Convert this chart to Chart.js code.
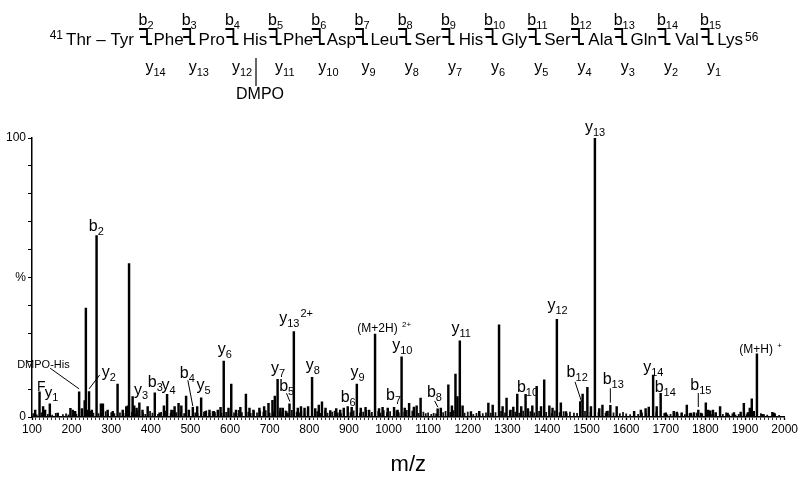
<!DOCTYPE html>
<html>
<head>
<meta charset="utf-8">
<script src="https://cdn.jsdelivr.net/npm/chart.js@4.4.0/dist/chart.umd.min.js"></script>
<style>
  html, body { margin: 0; padding: 0; background: #fff; }
  canvas { display: block; }
</style>
</head>
<body>
<canvas id="chart" width="800" height="478"></canvas>
<script>
// Peptide sequence shown above the spectrum
const residues = ["Thr", "Tyr", "Phe", "Pro", "His", "Phe", "Asp", "Leu", "Ser", "His", "Gly", "Ser", "Ala", "Gln", "Val", "Lys"];
const headerB = ["b2", "b3", "b4", "b5", "b6", "b7", "b8", "b9", "b10", "b11", "b12", "b13", "b14", "b15"];
const headerY = ["y14", "y13", "y12", "y11", "y10", "y9", "y8", "y7", "y6", "y5", "y4", "y3", "y2", "y1"];

// Main peaks (m/z, relative intensity %)
const peakMz = [
  108, 119, 128, 133, 145, 165, 197, 203, 209, 219,
  226, 233, 236, 239, 244, 251, 263, 274, 279, 291,
  304, 316, 329, 338, 342, 345, 354, 358, 364, 371,
  379, 392, 410, 422, 433, 441, 452, 460, 470, 477,
  489, 496, 506, 517, 527, 538, 548, 559, 569, 576,
  584, 596, 603, 615, 626, 640, 649, 659, 674, 686,
  697, 707, 713, 720, 727, 733, 742, 750, 761, 771,
  779, 788, 797, 807, 815, 824, 832, 841, 853, 868,
  878, 887, 897, 907, 920, 930, 942, 951, 966, 976,
  985, 998, 1014, 1023, 1033, 1041, 1052, 1064, 1071, 1081,
  1124, 1132, 1151, 1160, 1169, 1174, 1180, 1187, 1208, 1229,
  1252, 1263, 1279, 1288, 1298, 1308, 1315, 1325, 1335, 1346,
  1352, 1363, 1374, 1385, 1393, 1406, 1414, 1425, 1435, 1448,
  1484, 1490, 1502, 1511, 1521, 1532, 1540, 1551, 1560, 1576,
  1620, 1637, 1649, 1657, 1668, 1677, 1687, 1700, 1720, 1728,
  1740, 1753, 1763, 1771, 1782, 1789, 1801, 1807, 1812, 1819,
  1826, 1837, 1856, 1872, 1889, 1897, 1907, 1912, 1917, 1922,
  1930, 1944, 1969, 1973
];
const peakInt = [
  2.5, 9.0, 3.7, 2.5, 4.7, 1.4, 3.1, 2.5, 2.0, 9.0,
  3.0, 5.9, 39, 2.5, 9.1, 2.5, 65, 4.7, 4.7, 2.5,
  2.0, 11.8, 2.5, 3.7, 4.0, 55, 7.3, 4.0, 3.2, 5.1,
  2.5, 3.7, 8.7, 1.5, 4.0, 8.1, 2.5, 3.7, 4.9, 4.0,
  7.5, 2.5, 3.5, 3.7, 6.9, 2.0, 2.5, 2.0, 2.5, 3.5,
  20, 3.2, 11.8, 2.5, 3.5, 8.2, 3.2, 2.5, 3.2, 3.7,
  4.9, 6.0, 7.5, 13.5, 3.2, 3.2, 1.9, 4.7, 30.6, 3.2,
  3.7, 3.2, 3.7, 14.2, 3.0, 4.3, 5.4, 3.2, 2.3, 3.0,
  2.5, 3.2, 3.7, 3.5, 11.8, 3.2, 3.5, 2.5, 29.7, 3.0,
  3.5, 3.2, 3.5, 2.5, 21.6, 3.2, 4.9, 3.6, 4.0, 6.8,
  2.9, 3.2, 11.5, 4.0, 15.4, 7.3, 27.3, 4.0, 1.9, 2.0,
  5.0, 4.3, 33, 3.7, 6.8, 2.5, 3.6, 8.2, 3.7, 8.1,
  3.0, 4.0, 11.0, 3.7, 13.3, 4.0, 3.2, 35, 5.1, 1.9,
  5.5, 8.2, 10.6, 3.7, 100, 3.0, 4.3, 2.0, 4.2, 3.7,
  2.0, 2.5, 3.0, 3.6, 15, 3.7, 8.5, 1.5, 2.0, 1.8,
  1.4, 4.3, 1.4, 1.6, 2.5, 1.4, 5.1, 2.5, 2.2, 2.5,
  1.6, 3.7, 1.4, 1.6, 1.8, 4.9, 1.6, 3.2, 6.5, 2.0,
  22.6, 1.0, 1.7, 1.4
];

// Low baseline peaks
const noiseMz = [
  103, 112, 124, 133, 140, 151, 160, 166, 178, 186,
  192, 205, 212, 226, 248, 255, 268, 286, 292, 300,
  308, 322, 330, 336, 352, 360, 366, 380, 386, 398,
  404, 418, 426, 436, 450, 456, 464, 476, 484, 496,
  512, 518, 534, 540, 548, 556, 562, 570, 578, 590,
  596, 610, 616, 622, 630, 646, 652, 660, 668, 676,
  684, 690, 700, 710, 726, 732, 740, 746, 756, 768,
  774, 780, 788, 796, 814, 820, 828, 840, 846, 858,
  864, 872, 880, 888, 904, 912, 928, 936, 944, 952,
  958, 974, 980, 988, 996, 1004, 1020, 1026, 1040, 1046,
  1052, 1060, 1076, 1088, 1094, 1100, 1108, 1114, 1120, 1138,
  1144, 1156, 1164, 1192, 1200, 1214, 1222, 1230, 1238, 1246,
  1258, 1270, 1284, 1294, 1306, 1320, 1330, 1340, 1352, 1358,
  1368, 1380, 1398, 1412, 1420, 1432, 1442, 1450, 1458, 1468,
  1476, 1496, 1510, 1530, 1548, 1554, 1568, 1584, 1592, 1600,
  1610, 1620, 1630, 1640, 1650, 1676, 1696, 1704, 1712, 1722,
  1730, 1740, 1748, 1760, 1770, 1778, 1792, 1808, 1814, 1826,
  1844, 1852, 1860, 1868, 1876, 1884, 1898, 1904, 1922, 1940,
  1948, 1956, 1976, 1986
];
const noiseInt = [
  1.2, 0.8, 1.5, 0.6, 1.0, 0.7, 1.3, 0.5, 0.9, 1.1,
  0.8, 1.6, 1.0, 1.8, 2.0, 1.4, 1.2, 1.9, 1.0, 1.6,
  1.2, 1.5, 2.0, 1.3, 1.8, 1.1, 2.2, 1.4, 1.0, 2.0,
  1.4, 1.0, 1.7, 2.1, 1.3, 2.4, 1.6, 1.9, 1.2, 2.0,
  1.5, 1.1, 1.8, 2.2, 1.3, 1.9, 1.6, 2.3, 1.4, 1.7,
  2.0, 1.5, 1.2, 2.4, 1.6, 1.8, 1.3, 2.1, 1.5, 2.2,
  1.7, 2.3, 1.4, 1.9, 2.0, 1.6, 2.2, 1.3, 2.4, 1.8,
  1.5, 2.1, 1.2, 2.3, 1.6, 1.9, 1.3, 2.2, 1.4, 1.8,
  2.1, 1.5, 1.2, 1.9, 1.6, 2.2, 1.4, 1.8, 2.4, 1.3,
  1.7, 2.0, 1.4, 2.3, 1.6, 1.9, 2.2, 1.5, 1.8, 2.4,
  1.6, 2.1, 1.3, 1.8, 1.2, 1.5, 1.0, 1.3, 1.1, 1.6,
  2.0, 1.7, 2.3, 1.4, 1.8, 1.0, 1.3, 0.9, 1.2, 1.5,
  1.4, 1.6, 2.0, 1.5, 2.2, 1.8, 1.4, 2.1, 1.6, 1.9,
  1.5, 2.0, 1.7, 1.3, 2.2, 1.6, 1.9, 1.2, 1.8, 1.4,
  1.3, 2.0, 1.8, 1.6, 1.4, 2.1, 1.5, 1.2, 1.7, 1.1,
  0.9, 1.3, 1.0, 1.5, 1.2, 1.6, 1.3, 0.8, 1.0, 1.4,
  1.1, 1.5, 0.9, 1.2, 1.0, 1.4, 1.1, 1.3, 0.9, 1.2,
  1.0, 1.5, 0.8, 1.1, 0.7, 1.0, 1.6, 0.9, 1.4, 1.2,
  0.9, 0.7, 1.1, 0.6
];

// Assigned ions
const ionNames = ["F", "y1", "DMPO-His", "y2", "b2", "y3", "b3", "y4", "b4", "y5",
  "y6", "y7", "b5", "y13 2+", "y8", "b6", "y9", "(M+2H) 2+", "b7", "y10",
  "b8", "y11", "b10", "y12", "b12", "y13", "b13", "y14", "b14", "b15", "(M+H) +"];
const ionMz = [119, 145, 219, 244, 263, 354, 410, 441, 506, 527,
  584, 720, 750, 761, 807, 897, 920, 966, 1014, 1033,
  1124, 1180, 1346, 1425, 1490, 1521, 1560, 1668, 1687, 1782, 1930];

const FONT = '"Liberation Sans", Arial, sans-serif';
const TICK_FONT = '"Liberation Sans Narrow", "Liberation Sans", Arial, sans-serif';

// label placement relative to the top of its peak: [dx, dy(baseline), size, leader]
const ionPlace = {
  "F": [-2.5, -1, 14],
  "y1": [-5, -7, 15],
  "DMPO-His": [-62, -24, 11, [-29, -23.7, 0, -3]],
  "y2": [12.7, -15, 16, [10.7, -16.7, 0, -2.7]],
  "b2": [-7.7, -5, 16],
  "y3": [1.5, -2, 16],
  "b3": [-7, -6, 16],
  "y4": [-5.7, -4, 16],
  "b4": [-13, -29, 16, [-5, -27, 0, -1]],
  "y5": [-4.7, -8, 16],
  "y6": [-6, -7.5, 16],
  "y7": [-6.6, -6, 16],
  "b5": [-10.3, -13, 16, [-3, -10.7, 0.4, -2.3]],
  "y13 2+": [-14.7, -8.4, 16],
  "y8": [-6.3, -7.3, 16],
  "b6": [-7, -5, 16],
  "y9": [-6.3, -7.3, 16],
  "(M+2H) 2+": [-17.7, -2.3, 12],
  "b7": [-8, -7.3, 16],
  "y10": [-9.4, -6.7, 16],
  "b8": [-10.7, -11.7, 16, [-3, -8, 0.3, -1.7]],
  "y11": [-8.3, -7.4, 16],
  "b10": [-8.7, -2.6, 16],
  "y12": [-9.4, -9.3, 16],
  "b12": [-16, -16.7, 16, [-7.6, -12.3, -1, 7.7]],
  "y13": [-10, -6, 16],
  "b13": [-7.7, -21, 16, [0, -17, 0, -2.6]],
  "y14": [-10, -3, 16],
  "b14": [-6, -1.6, 16],
  "b15": [-8, -20, 16, [0, -17, 0, -3]],
  "(M+H) +": [-17.6, -0.7, 12]
};

function splitIon(name) {
  let m = name.match(/^([by])(\d+)(?: (\S+))?$/);
  if (m) return { base: m[1], sub: m[2], sup: m[3] || "" };
  m = name.match(/^(\(.+\)) (\S+)$/);
  if (m) return { base: m[1] + " ", sub: "", sup: m[2] };
  return { base: name, sub: "", sup: "" };
}

function drawIon(ctx, name, x, y, size) {
  const p = splitIon(name);
  ctx.textAlign = "left";
  ctx.textBaseline = "alphabetic";
  ctx.font = size + "px " + FONT;
  ctx.fillText(p.base, x, y);
  x += ctx.measureText(p.base).width;
  if (p.sub) {
    ctx.font = Math.round(size * 0.7) + "px " + FONT;
    ctx.fillText(p.sub, x, y + size * 0.25);
    x += ctx.measureText(p.sub).width;
  }
  if (p.sup) {
    ctx.font = Math.round(size * 0.68) + "px " + FONT;
    ctx.fillText(p.sup, x + 1, y - size * 0.42);
  }
}

const annotate = {
  id: "annotate",
  afterDatasetsDraw(chart) {
    const ctx = chart.ctx;
    const xs = chart.scales.x, ys = chart.scales.y;
    ctx.save();
    ctx.fillStyle = "#000";
    ctx.strokeStyle = "#000";

    // ion labels on the spectrum
    ionNames.forEach((name, i) => {
      const mz = ionMz[i];
      const h = peakInt[peakMz.indexOf(mz)];
      const px = xs.getPixelForValue(mz);
      const top = ys.getPixelForValue(h);
      const pl = ionPlace[name];
      drawIon(ctx, name, px + pl[0], top + pl[1], pl[2]);
      if (pl[3]) {
        const l = pl[3];
        ctx.lineWidth = 1;
        ctx.beginPath();
        ctx.moveTo(px + l[0], top + l[1]);
        ctx.lineTo(px + l[2], top + l[3]);
        ctx.stroke();
      }
    });

    // sequence header
    const x0 = 147, step = 43.2, base = 45;
    ctx.font = "17px " + FONT;
    ctx.textAlign = "right";
    ctx.fillText(residues[0] + " \u2013 " + residues[1], 134, base);
    ctx.font = "12px " + FONT;
    ctx.fillText("41", 63, base - 6);
    ctx.lineWidth = 1.8;
    for (let k = 0; k < headerB.length; k++) {
      const xv = x0 + step * k;
      ctx.beginPath();
      ctx.moveTo(xv - 8, 29);
      ctx.lineTo(xv, 29);
      ctx.lineTo(xv, 44);
      ctx.lineTo(xv + 5, 44);
      ctx.moveTo(xv - 7, 37);
      ctx.lineTo(xv, 37);
      ctx.stroke();
      ctx.font = "17px " + FONT;
      ctx.textAlign = "center";
      ctx.fillText(residues[k + 2], xv + 21.6, base);
      drawIon(ctx, headerB[k], xv - 8.5, 25, 16);
      drawIon(ctx, headerY[k], xv - 1.5, 72, 16);
    }
    ctx.font = "12px " + FONT;
    ctx.textAlign = "left";
    ctx.fillText("56", 745, base - 4);

    // DMPO modification on His
    ctx.lineWidth = 1.2;
    ctx.beginPath();
    ctx.moveTo(256, 58);
    ctx.lineTo(256, 86);
    ctx.stroke();
    ctx.font = "16px " + FONT;
    ctx.textAlign = "center";
    ctx.fillText("DMPO", 260, 99);
    ctx.restore();
  }
};

const peaks = peakMz.map((mz, i) => ({ x: mz, y: peakInt[i] }));
const noise = noiseMz.map((mz, i) => ({ x: mz, y: noiseInt[i] }));

new Chart(document.getElementById("chart"), {
  type: "bar",
  data: {
    datasets: [
      { data: peaks, backgroundColor: "#000", borderWidth: 0, barThickness: 1.8, grouped: false },
      { data: noise, backgroundColor: "#111", borderWidth: 0, barThickness: 1.1, grouped: false }
    ]
  },
  options: {
    responsive: false,
    animation: false,
    layout: { padding: { top: 138, right: 13, left: 0, bottom: 0 } },
    plugins: { legend: { display: false }, tooltip: { enabled: false } },
    scales: {
      x: {
        type: "linear",
        min: 100,
        max: 2000,
        offset: false,
        grid: {
          display: true, drawOnChartArea: false, drawTicks: true, offset: false,
          tickLength: 3, tickColor: "#000",
          tickWidth: (c) => (c.tick && c.tick.value % 100 === 0 ? 1.4 : 0.8)
        },
        border: { display: true, color: "#000", width: 1.5 },
        ticks: {
          stepSize: 10, autoSkip: false, maxRotation: 0, minRotation: 0, padding: 2,
          color: "#000", font: { family: TICK_FONT, size: 12 },
          callback: (v) => (v % 100 === 0 ? String(v) : "")
        },
        title: { display: true, text: "m/z", color: "#000", font: { family: FONT, size: 22 }, padding: 0 },
        afterFit: (s) => { s.height = 61; }
      },
      y: {
        min: 0,
        max: 100,
        grid: { display: true, drawOnChartArea: false, drawTicks: true, tickLength: 4, tickColor: "#000" },
        border: { display: true, color: "#000", width: 1.5 },
        ticks: {
          stepSize: 10, padding: 2, color: "#000", font: { family: FONT, size: 12 },
          callback: (v) => (v === 100 ? "100" : v === 50 ? "%" : v === 0 ? "0" : "")
        },
        afterFit: (s) => { s.width = 32; }
      }
    }
  },
  plugins: [annotate]
});
</script>
</body>
</html>
